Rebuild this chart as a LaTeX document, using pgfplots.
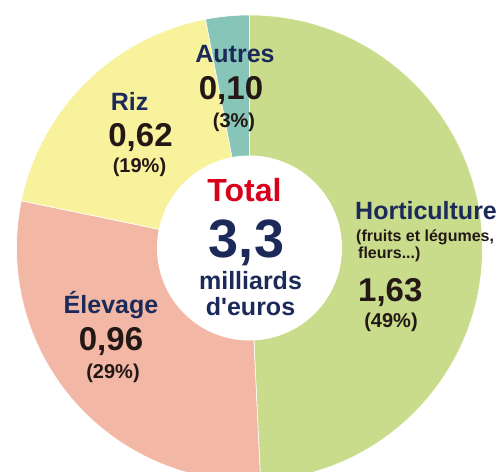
\documentclass[border=0pt]{standalone}
\usepackage{pgfplots}
\pgfplotsset{compat=1.18}
\usepackage{pgfplotstable}
\usepackage{fontspec}
\setmainfont{Liberation Sans}
\definecolor{navy}{RGB}{28,42,90}
\definecolor{dark}{RGB}{35,24,21}
\definecolor{totred}{RGB}{217,0,27}
\definecolor{hort}{RGB}{201,220,140}
\definecolor{elev}{RGB}{242,184,165}
\definecolor{riz}{RGB}{248,242,156}
\definecolor{autres}{RGB}{134,197,184}
\pgfplotstableread{
name value
Horticulture 1.63
Elevage 0.96
Riz 0.62
Autres 0.10
}\piedata
\newcommand{\fs}[1]{\fontsize{#1}{#1}\selectfont}
\begin{document}
\begin{tikzpicture}
\pgfplotstablegetelem{0}{value}\of\piedata \let\vA\pgfplotsretval
\pgfplotstablegetelem{1}{value}\of\piedata \let\vB\pgfplotsretval
\pgfplotstablegetelem{2}{value}\of\piedata \let\vC\pgfplotsretval
\pgfplotstablegetelem{3}{value}\of\piedata \let\vD\pgfplotsretval
\pgfmathsetmacro{\tot}{\vA+\vB+\vC+\vD}
\pgfmathsetmacro{\aA}{90-360*\vA/\tot}
\pgfmathsetmacro{\aB}{\aA-360*\vB/\tot}
\pgfmathsetmacro{\aC}{\aB-360*\vC/\tot}
\pgfmathsetmacro{\aD}{\aC-360*\vD/\tot}
\begin{axis}[scale only axis, width=502pt, height=471pt,
  xmin=0, xmax=502, ymin=0, ymax=471, hide axis, clip=true]
\fill[hort, draw=white, line width=0.6pt] (axis cs:249.5,223) -- ++(90:233pt) arc[start angle=90, end angle=\aA, radius=233pt] -- cycle;
\fill[elev, draw=white, line width=0.6pt] (axis cs:249.5,223) -- ++(\aA:233pt) arc[start angle=\aA, end angle=\aB, radius=233pt] -- cycle;
\fill[riz, draw=white, line width=0.6pt] (axis cs:249.5,223) -- ++(\aB:233pt) arc[start angle=\aB, end angle=\aC, radius=233pt] -- cycle;
\fill[autres, draw=white, line width=0.6pt] (axis cs:249.5,223) -- ++(\aC:233pt) arc[start angle=\aC, end angle=\aD, radius=233pt] -- cycle;
\fill[white] (axis cs:249.5,223) circle[radius=92.5pt];
% Autres
\node[anchor=base, inner sep=0, text=navy, font=\bfseries\fs{25}] at (axis cs:235,408) {Autres};
\node[anchor=base, inner sep=0, text=dark, font=\bfseries\fs{33}] at (axis cs:231,371) {0,10};
\node[anchor=base, inner sep=0, text=dark, font=\bfseries\fs{20}] at (axis cs:234,343) {(3\%)};
% Riz
\node[anchor=base, inner sep=0, text=navy, font=\bfseries\fs{25}] at (axis cs:129.5,360) {Riz};
\node[anchor=base, inner sep=0, text=dark, font=\bfseries\fs{33}] at (axis cs:140.5,324) {0,62};
\node[anchor=base, inner sep=0, text=dark, font=\bfseries\fs{20}] at (axis cs:139.5,298) {(19\%)};
% Centre
\node[anchor=base, inner sep=0, text=totred, font=\bfseries\fs{32}] at (axis cs:244.5,269) {Total};
\node[anchor=base, inner sep=0, text=navy, font=\bfseries\fs{54}] at (axis cs:246.5,213) {3,3};
\node[anchor=base, inner sep=0, text=navy, font=\bfseries\fs{25}] at (axis cs:250.5,182) {milliards};
\node[anchor=base, inner sep=0, text=navy, font=\bfseries\fs{25}] at (axis cs:250.5,156) {d{\addfontfeatures{Ligatures=TeXOff}'}euros};
% Horticulture
\node[anchor=base west, inner sep=0, text=navy, font=\bfseries\fs{25}] at (axis cs:355,251) {Horticulture};
\node[anchor=base west, inner sep=0, text=dark, font=\bfseries\fs{16}] at (axis cs:356,229) {(fruits et légumes,};
\node[anchor=base west, inner sep=0, text=dark, font=\bfseries\fs{16}] at (axis cs:358,212) {fleurs...)};
\node[anchor=base west, inner sep=0, text=dark, font=\bfseries\fs{33}] at (axis cs:358,170) {1,63};
\node[anchor=base, inner sep=0, text=dark, font=\bfseries\fs{20}] at (axis cs:391,144) {(49\%)};
% Elevage
\node[anchor=base, inner sep=0, text=navy, font=\bfseries\fs{25}] at (axis cs:111,158) {Élevage};
\node[anchor=base, inner sep=0, text=dark, font=\bfseries\fs{33}] at (axis cs:111,121) {0,96};
\node[anchor=base, inner sep=0, text=dark, font=\bfseries\fs{20}] at (axis cs:113,93) {(29\%)};
\end{axis}
\pgfresetboundingbox
\useasboundingbox (current axis.south west) rectangle (current axis.north east);
\end{tikzpicture}
\end{document}
